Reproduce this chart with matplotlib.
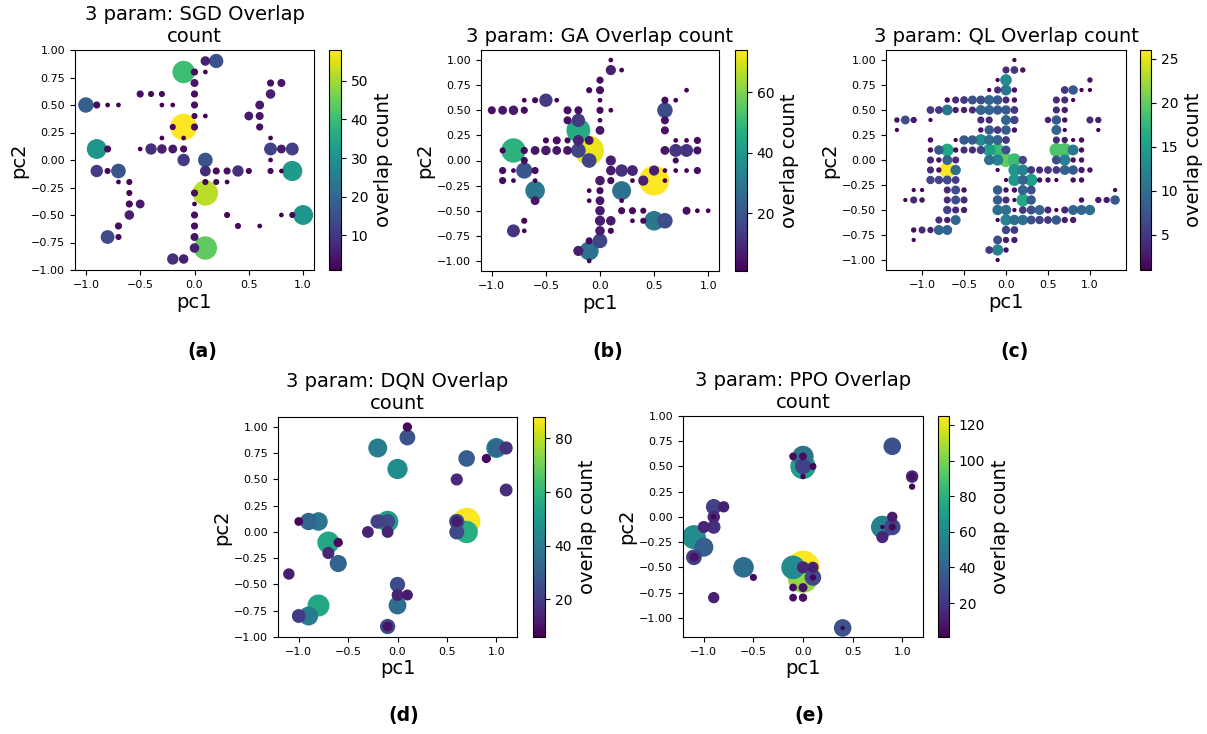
import numpy as np
import matplotlib.pyplot as plt

# (pc1, pc2, overlap count)
sgd = [(-1.0, 0.5, 18), (-0.9, 0.5, 3), (-0.8, 0.5, 1), (-0.7, 0.5, 1),
       (-0.5, 0.6, 3), (-0.4, 0.6, 2), (-0.3, 0.6, 2), (-0.3, 0.5, 1), (-0.2, 0.5, 1),
       (-0.1, 0.8, 40), (0.0, 0.8, 3), (0.1, 0.8, 1), (0.1, 0.9, 6), (0.2, 0.9, 15),
       (0.0, 0.7, 4), (0.0, 0.6, 3), (0.0, 0.5, 3), (0.0, 0.4, 2), (0.1, 0.4, 1),
       (-0.1, 0.3, 58), (-0.2, 0.3, 2), (0.0, 0.3, 3), (-0.1, 0.2, 1), (-0.3, 0.2, 1),
       (-0.5, 0.1, 1), (-0.4, 0.1, 9), (-0.3, 0.1, 6), (-0.2, 0.1, 5), (-0.1, 0.1, 3),
       (-0.1, 0.0, 11), (-0.9, 0.1, 31), (-0.8, 0.1, 3),
       (-0.9, -0.1, 11), (-0.8, -0.1, 2), (-0.7, -0.1, 16),
       (-0.7, -0.2, 1), (-0.6, -0.2, 2), (-0.6, -0.3, 2), (-0.6, -0.4, 3), (-0.5, -0.4, 5),
       (-0.6, -0.5, 6), (-0.7, -0.6, 3), (-0.8, -0.7, 14), (-0.7, -0.7, 2),
       (0.1, 0.0, 16), (0.1, -0.1, 8), (0.2, -0.1, 3), (0.3, -0.1, 3), (0.4, -0.1, 9), (0.5, -0.1, 2),
       (0.1, -0.2, 2), (0.2, -0.2, 2), (0.3, -0.2, 1),
       (0.1, -0.3, 52), (0.0, -0.3, 3), (0.0, -0.4, 1), (0.0, -0.5, 3), (0.0, -0.6, 3),
       (0.0, -0.7, 4), (0.0, -0.8, 6), (0.1, -0.8, 44), (-0.2, -0.9, 9), (-0.1, -0.9, 6),
       (0.3, -0.5, 2), (0.4, -0.6, 2), (0.6, -0.6, 1),
       (0.8, -0.5, 1), (0.9, -0.5, 2), (1.0, -0.5, 31),
       (0.9, -0.1, 32), (0.7, -0.1, 2), (0.8, -0.1, 1), (0.7, 0.0, 1),
       (0.7, 0.1, 12), (0.8, 0.1, 5), (0.9, 0.1, 12), (0.7, 0.2, 1),
       (0.6, 0.3, 3), (0.6, 0.4, 4), (0.5, 0.4, 5), (0.6, 0.5, 5), (0.7, 0.6, 6),
       (0.7, 0.7, 3), (0.8, 0.7, 4)]

ga = [(-1.0, 0.5, 4), (-0.9, 0.5, 5), (-0.8, 0.5, 6), (-0.7, 0.5, 3),
      (-0.7, 0.6, 1), (-0.6, 0.6, 2), (-0.5, 0.6, 13), (-0.4, 0.6, 1),
      (-0.8, 0.1, 48), (-0.9, 0.1, 2), (-0.7, 0.1, 3), (-0.6, 0.1, 5), (-0.5, 0.1, 6),
      (-0.4, 0.1, 5), (-0.3, 0.1, 5), (-0.2, 0.1, 16),
      (-0.5, 0.2, 2), (-0.4, 0.2, 4), (-0.3, 0.2, 2), (-0.2, 0.2, 8), (-0.1, 0.2, 5),
      (-0.2, 0.3, 46), (0.0, 0.3, 5),
      (-0.3, 0.5, 4), (-0.2, 0.5, 4), (-0.3, 0.4, 4), (-0.2, 0.4, 13), (0.0, 0.5, 3),
      (0.1, 0.5, 1), (0.0, 0.4, 1),
      (-0.1, 0.7, 2), (0.0, 0.7, 4), (0.0, 0.8, 3), (0.0, 0.6, 1),
      (0.1, 0.9, 7), (0.2, 0.9, 1), (0.1, 1.0, 1),
      (-0.1, 0.1, 72), (-0.1, 0.0, 16),
      (-0.9, -0.1, 3), (-0.8, -0.1, 1), (-0.7, -0.1, 20), (-0.6, -0.1, 3), (-0.7, 0.0, 3),
      (-0.9, -0.2, 3), (-0.8, -0.2, 1), (-0.6, -0.2, 1),
      (-0.6, -0.3, 30), (-0.6, -0.4, 5),
      (-0.7, -0.6, 2), (-0.7, -0.7, 1), (-0.8, -0.7, 12),
      (0.0, -0.2, 6), (0.0, -0.3, 3), (-0.1, -0.3, 1), (-0.1, -0.4, 1), (0.0, -0.4, 5),
      (0.0, -0.5, 6), (0.0, -0.6, 7), (0.1, -0.6, 6), (0.0, -0.7, 6), (0.1, -0.7, 2),
      (0.0, -0.8, 16), (-0.1, -0.8, 3), (-0.1, -0.9, 28), (-0.2, -0.9, 7), (-0.1, -1.0, 1),
      (0.1, -0.1, 6), (0.1, 0.0, 7), (0.1, -0.2, 3), (0.2, -0.1, 11), (0.3, -0.1, 8),
      (0.3, -0.2, 1), (0.2, -0.3, 28), (0.2, -0.4, 1),
      (0.4, -0.2, 7), (0.5, -0.1, 7), (0.5, -0.2, 74), (0.6, -0.1, 1), (0.6, -0.2, 1),
      (0.2, -0.5, 3), (0.3, -0.5, 3), (0.4, -0.5, 2), (0.3, -0.6, 1), (0.4, -0.6, 2),
      (0.5, -0.6, 30), (0.6, -0.6, 18),
      (0.8, -0.5, 4), (0.9, -0.5, 1), (1.0, -0.5, 1),
      (0.6, 0.5, 18), (0.6, 0.6, 3), (0.7, 0.6, 1), (0.8, 0.7, 1), (0.6, 0.4, 4), (0.6, 0.3, 4),
      (0.6, 0.1, 5), (0.7, 0.1, 12), (0.8, 0.1, 12), (0.9, 0.1, 4), (0.7, 0.2, 1),
      (0.8, 0.2, 1), (0.9, 0.2, 3), (0.7, 0.0, 2), (0.7, -0.1, 1), (0.8, -0.1, 1), (0.9, -0.1, 3)]

ql = [(0.1, 1.0, 1),
      (0.0, 0.9, 4), (0.1, 0.9, 5), (0.2, 0.9, 2),
      (-0.1, 0.8, 1), (0.0, 0.8, 13), (1.0, 0.8, 2),
      (-0.2, 0.7, 1), (-0.1, 0.7, 4), (0.0, 0.7, 11), (0.1, 0.7, 2), (0.7, 0.7, 5),
      (0.8, 0.7, 8), (0.9, 0.7, 1), (1.0, 0.7, 1),
      (-0.7, 0.6, 2), (-0.6, 0.6, 4), (-0.5, 0.6, 5), (-0.4, 0.6, 7), (-0.3, 0.6, 7),
      (-0.2, 0.6, 9), (-0.1, 0.6, 8), (0.0, 0.6, 4), (0.1, 0.6, 2), (0.6, 0.6, 4),
      (0.7, 0.6, 4), (0.8, 0.6, 1),
      (-0.9, 0.5, 5), (-0.8, 0.5, 5), (-0.7, 0.5, 11), (-0.6, 0.5, 3), (-0.5, 0.5, 3),
      (-0.4, 0.5, 4), (-0.3, 0.5, 9), (-0.2, 0.5, 9), (-0.1, 0.5, 8), (0.0, 0.5, 8),
      (0.1, 0.5, 5), (0.6, 0.5, 4), (0.7, 0.5, 3),
      (-1.3, 0.4, 2), (-1.2, 0.4, 7), (-1.1, 0.4, 3), (-0.9, 0.4, 1), (-0.3, 0.4, 4),
      (-0.2, 0.4, 4), (0.0, 0.4, 9), (0.1, 0.4, 6), (0.5, 0.4, 3), (0.6, 0.4, 8),
      (0.7, 0.4, 2), (1.0, 0.4, 4), (1.1, 0.4, 3),
      (-1.3, 0.3, 1), (-0.3, 0.3, 2), (-0.2, 0.3, 8), (-0.1, 0.3, 5), (0.0, 0.3, 8),
      (0.1, 0.3, 2), (0.6, 0.3, 9), (0.7, 0.3, 1), (1.1, 0.3, 1),
      (-0.9, 0.2, 2), (-0.6, 0.2, 1), (-0.5, 0.2, 8), (-0.4, 0.2, 8), (-0.3, 0.2, 13),
      (-0.2, 0.2, 10), (-0.1, 0.2, 9), (0.0, 0.2, 5), (0.6, 0.2, 4), (0.7, 0.2, 3),
      (0.8, 0.2, 1), (0.9, 0.2, 2),
      (-0.9, 0.1, 2), (-0.8, 0.1, 8), (-0.7, 0.1, 16), (-0.6, 0.1, 2), (-0.5, 0.1, 4),
      (-0.4, 0.1, 4), (-0.3, 0.1, 6), (-0.2, 0.1, 15), (-0.1, 0.1, 18), (0.0, 0.1, 7),
      (0.6, 0.1, 19), (0.7, 0.1, 19), (0.8, 0.1, 11), (0.9, 0.1, 2),
      (-0.9, 0.0, 4), (-0.8, 0.0, 2), (-0.7, 0.0, 9), (-0.6, 0.0, 4), (-0.2, 0.0, 10),
      (-0.1, 0.0, 12), (0.0, 0.0, 20), (0.1, 0.0, 18), (0.2, 0.0, 6), (0.6, 0.0, 7),
      (0.7, 0.0, 12), (0.8, 0.0, 2), (0.9, 0.0, 2),
      (-0.9, -0.1, 4), (-0.8, -0.1, 2), (-0.7, -0.1, 26), (-0.6, -0.1, 10), (-0.1, -0.1, 1),
      (0.1, -0.1, 14), (0.2, -0.1, 12), (0.3, -0.1, 5), (0.4, -0.1, 4), (0.5, -0.1, 5),
      (0.6, -0.1, 5), (0.7, -0.1, 9), (0.8, -0.1, 8), (0.9, -0.1, 3), (1.0, -0.1, 2),
      (-0.9, -0.2, 6), (-0.8, -0.2, 6), (-0.7, -0.2, 7), (-0.6, -0.2, 5), (0.0, -0.2, 1),
      (0.1, -0.2, 14), (0.2, -0.2, 9), (0.3, -0.2, 15), (0.4, -0.2, 2), (0.5, -0.2, 2),
      (0.6, -0.2, 1), (0.8, -0.2, 2), (0.9, -0.2, 2),
      (-1.1, -0.3, 1), (-1.0, -0.3, 1), (-0.7, -0.3, 4), (-0.6, -0.3, 7), (-0.5, -0.3, 2),
      (-0.1, -0.3, 8), (0.0, -0.3, 2), (0.1, -0.3, 2), (0.2, -0.3, 9), (0.3, -0.3, 7),
      (1.3, -0.3, 1),
      (-1.2, -0.4, 1), (-1.1, -0.4, 4), (-1.0, -0.4, 2), (-0.7, -0.4, 4), (-0.6, -0.4, 7),
      (-0.5, -0.4, 4), (-0.1, -0.4, 8), (0.0, -0.4, 4), (0.1, -0.4, 1), (0.2, -0.4, 16),
      (0.3, -0.4, 8), (0.9, -0.4, 2), (1.1, -0.4, 3), (1.2, -0.4, 3), (1.3, -0.4, 8),
      (-0.7, -0.5, 6), (-0.6, -0.5, 4), (-0.5, -0.5, 3), (-0.1, -0.5, 10), (0.0, -0.5, 10),
      (0.1, -0.5, 1), (0.2, -0.5, 5), (0.3, -0.5, 7), (0.4, -0.5, 9), (0.5, -0.5, 4),
      (0.6, -0.5, 1), (0.7, -0.5, 4), (0.8, -0.5, 9), (0.9, -0.5, 9), (1.0, -0.5, 10),
      (-0.8, -0.6, 4), (-0.7, -0.6, 3), (-0.6, -0.6, 9), (-0.1, -0.6, 1), (0.0, -0.6, 12),
      (0.1, -0.6, 10), (0.2, -0.6, 10), (0.3, -0.6, 7), (0.4, -0.6, 6), (0.5, -0.6, 5),
      (0.6, -0.6, 8), (0.7, -0.6, 3), (0.8, -0.6, 3),
      (-1.1, -0.7, 2), (-1.0, -0.7, 4), (-0.9, -0.7, 3), (-0.8, -0.7, 9), (-0.7, -0.7, 9),
      (0.0, -0.7, 6), (0.1, -0.7, 5),
      (-1.1, -0.8, 1), (-0.1, -0.8, 7), (0.0, -0.8, 3), (0.1, -0.8, 3),
      (-0.2, -0.9, 5), (-0.1, -0.9, 12), (0.0, -0.9, 2),
      (-0.1, -1.0, 1)]

dqn = [(0.1, 1.0, 8), (0.1, 0.9, 27), (-0.2, 0.8, 40), (0.0, 0.6, 46),
       (1.0, 0.8, 45), (1.0, 0.8, 33), (1.1, 0.8, 18),
       (0.7, 0.7, 30), (0.9, 0.7, 8), (0.6, 0.5, 15), (1.1, 0.4, 17),
       (0.7, 0.1, 88), (0.7, 0.0, 57), (0.6, 0.1, 25), (0.6, 0.1, 12), (0.6, 0.0, 24),
       (-0.9, 0.1, 33), (-0.8, 0.1, 38), (-1.0, 0.1, 7),
       (-0.7, -0.1, 55), (-0.6, -0.1, 8), (-0.7, -0.2, 15), (-0.6, -0.3, 32),
       (-1.1, -0.4, 13), (-0.8, -0.7, 55), (-0.9, -0.8, 40), (-1.0, -0.8, 20),
       (-0.2, 0.1, 22), (-0.1, 0.1, 52), (-0.1, 0.1, 24),
       (-0.3, 0.0, 14), (-0.1, 0.0, 14),
       (0.0, -0.5, 25), (0.0, -0.6, 14), (0.1, -0.6, 12), (0.0, -0.7, 35),
       (-0.1, -0.9, 25), (-0.1, -0.9, 10)]

ppo = [(0.0, 0.6, 48), (0.0, 0.5, 70), (0.0, 0.5, 25),
       (-0.1, 0.6, 5), (0.0, 0.6, 5), (0.1, 0.5, 4), (0.0, 0.4, 2),
       (0.9, 0.7, 32), (1.1, 0.4, 15), (1.1, 0.4, 5), (1.1, 0.3, 3),
       (-0.9, 0.1, 25), (-0.8, 0.1, 12), (-0.9, 0.0, 15), (-0.9, 0.0, 2),
       (-0.9, -0.1, 18), (-1.0, -0.1, 14),
       (-1.1, -0.2, 62), (-1.0, -0.3, 38), (-1.1, -0.4, 25), (-1.1, -0.4, 8),
       (-0.6, -0.5, 45), (-0.5, -0.6, 4), (-0.9, -0.8, 12),
       (0.0, -0.5, 125), (0.0, -0.6, 105), (-0.1, -0.5, 60), (0.1, -0.6, 28),
       (0.0, -0.5, 14), (0.1, -0.5, 12), (0.1, -0.6, 3),
       (-0.1, -0.7, 5), (0.0, -0.7, 7), (-0.1, -0.8, 5), (0.0, -0.8, 6),
       (0.4, -1.1, 32), (0.4, -1.1, 1),
       (0.8, -0.1, 55), (0.9, -0.1, 28), (0.9, 0.0, 10), (0.9, -0.1, 4),
       (0.8, -0.1, 1), (0.8, -0.2, 14)]

titles = ['3 param: SGD Overlap\ncount', '3 param: GA Overlap count',
          '3 param: QL Overlap count', '3 param: DQN Overlap\ncount',
          '3 param: PPO Overlap\ncount']
letters = ['(a)', '(b)', '(c)', '(d)', '(e)']
cbar_ranges = [(1, 58), (1, 74), (1, 26), (6, 88), (1, 125)]

W, H = 1207, 734
fig = plt.figure(figsize=(W / 100, H / 100), dpi=100)


def px_box(l, t, r, b):
    return [l / W, 1 - b / H, (r - l) / W, (b - t) / H]


# axes box, colorbar x-span, size factor, xlim, ylim, letter position (all pixels)
layout = [
    ((75, 50, 314, 270), (329, 341), 5.7, (-1.1, 1.1), (-1.0, 1.0), (202, 351)),
    ((481, 50, 719, 271), (735, 747), 5.7, (-1.1, 1.1), (-1.1, 1.1), (608, 351)),
    ((886, 50, 1126, 270), (1140, 1151), 4.2, (-1.43, 1.43), (-1.1, 1.1), (1015, 351)),
    ((278, 417, 517, 637), (533, 545), 4.0, (-1.21, 1.21), (-1.0, 1.095), (404, 716)),
    ((683, 416, 923, 637), (938, 949), 4.25, (-1.21, 1.21), (-1.19, 1.0), (809, 716)),
]

for pts, title, letter, (vmin, vmax), (box, cbx, k, xl, yl, lp) in zip(
        [sgd, ga, ql, dqn, ppo], titles, letters, cbar_ranges, layout):
    x, y, n = map(np.array, zip(*pts))
    order = np.argsort(-n, kind='stable')
    ax = fig.add_axes(px_box(*box))
    sc = ax.scatter(x[order], y[order], s=n[order] * k, c=n[order], cmap='viridis',
                    vmin=vmin, vmax=vmax, linewidths=1.0)
    ax.set_xlim(*xl)
    ax.set_ylim(*yl)
    ax.set_xticks([-1.0, -0.5, 0.0, 0.5, 1.0])
    ax.set_yticks(np.arange(-1.0, 1.01, 0.25))
    ax.tick_params(labelsize=8)
    ax.set_title(title, fontsize=14)
    ax.set_xlabel('pc1', fontsize=14, labelpad=2)
    ax.set_ylabel('pc2', fontsize=14, labelpad=2)

    cax = fig.add_axes(px_box(cbx[0], box[1], cbx[1], box[3]))
    cb = fig.colorbar(sc, cax=cax)
    cb.set_label('overlap count', fontsize=14)
    cb.ax.tick_params(labelsize=10)

    fig.text(lp[0] / W, 1 - lp[1] / H, letter, ha='center', va='center',
             fontsize=13.5, fontweight='bold')

fig.savefig('out.png', dpi=100)
